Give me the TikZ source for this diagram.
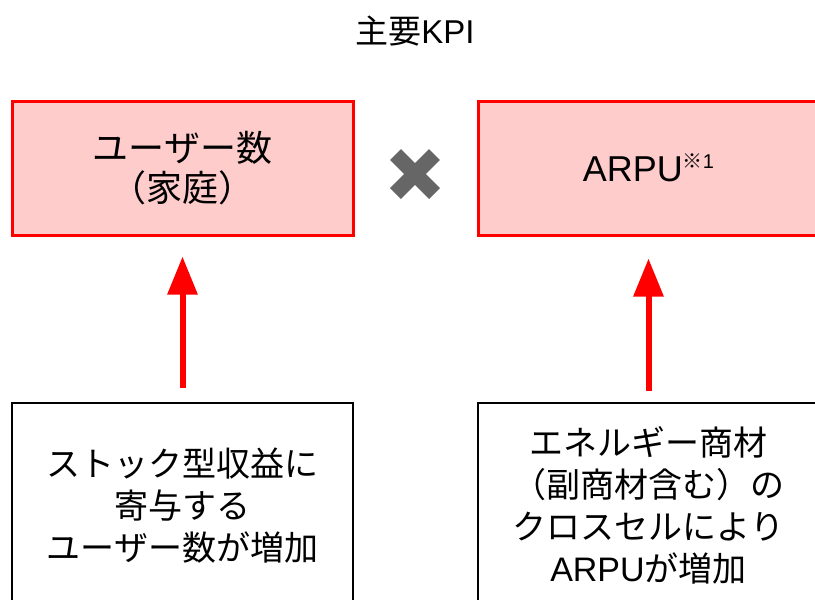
\documentclass[tikz,border=0pt]{standalone}
\usepackage{fontspec}
\setmainfont{Noto Sans CJK JP}
\newfontfamily\latinfont{Liberation Sans}
\usetikzlibrary{arrows.meta}
\definecolor{kpired}{HTML}{FF0000}
\definecolor{kpifill}{HTML}{FFCCCC}
\definecolor{crossgray}{HTML}{666666}
\tikzset{
  kpibox/.style={draw=kpired, line width=3pt, fill=kpifill, minimum width=341pt, minimum height=134pt,
    align=center, font=\fontsize{36}{40}\selectfont, inner sep=0pt},
  srcbox/.style={draw=black, line width=1.6pt, fill=white, minimum width=341pt, minimum height=206pt,
    align=center, font=\fontsize{34}{42}\selectfont, inner sep=0pt, anchor=north},
  uparrow/.style={draw=kpired, line width=6pt, -{Triangle[width=29pt,length=38pt]}},
  crossarm/.style={draw=crossgray, line width=15.5pt}
}
\begin{document}
\begin{tikzpicture}[x=1pt,y=-1pt]
\useasboundingbox (0,0) rectangle (815,600);
\node (title) at (415,31) {\fontsize{33}{36}\selectfont 主要{\latinfont KPI}};
\node[kpibox] (users) at (182.5,168) {ユーザー数\\（家庭）};
\node[kpibox] (arpu) at (648.5,168) {{\latinfont ARPU}\raisebox{13pt}{\fontsize{20}{20}\selectfont ※{\latinfont 1}}};
\coordinate (times) at (415,174);
\draw[crossarm] ([shift={(-19.5,-19.5)}]times) -- ([shift={(19.5,19.5)}]times);
\draw[crossarm] ([shift={(-19.5,19.5)}]times) -- ([shift={(19.5,-19.5)}]times);
\node[srcbox] (stock) at (182.5,402) {ストック型収益に\\寄与する\\ユーザー数が増加};
\node[srcbox] (cross) at (648.5,402) {エネルギー商材\\（副商材含む）の\\クロスセルにより\\{\latinfont ARPU}が増加};
\draw[uparrow] ([yshift=14pt]stock.north) -- ([yshift=-20pt]users.south);
\draw[uparrow] ([yshift=11pt]cross.north) -- ([yshift=-22pt]arpu.south);
\end{tikzpicture}
\end{document}
